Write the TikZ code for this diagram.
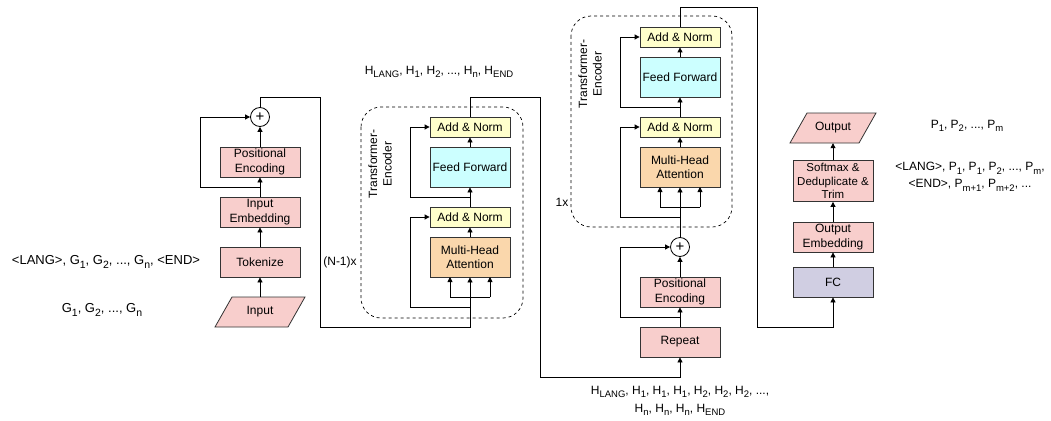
\documentclass[tikz,border=0pt]{standalone}
\usepackage{fontspec}
\setmainfont{Liberation Sans}
\usetikzlibrary{arrows.meta,calc}
\newcommand\dfs{\fontsize{12}{14.5}\selectfont}
\newcommand\sfs{\fontsize{11.5}{13.5}\selectfont}
\newcommand\sbx[1]{\raisebox{-3.5pt}{\fontsize{9.5}{10}\selectfont #1}}
\newcommand\sbl[1]{\raisebox{-3.8pt}{\fontsize{10.5}{11}\selectfont #1}}
\definecolor{pinkf}{HTML}{F8CECC}
\definecolor{yellowf}{HTML}{FFFFCC}
\definecolor{cyanf}{HTML}{CCFFFF}
\definecolor{orangef}{HTML}{FAD7AC}
\definecolor{lavf}{HTML}{D0CEE2}
\definecolor{edge}{HTML}{333333}
\tikzset{
  box/.style={draw=edge, line width=0.8pt, minimum width=80pt, minimum height=30pt, inner sep=1pt, align=center, font=\dfs},
  pinkbox/.style={box, fill=pinkf},
  anbox/.style={box, fill=yellowf, minimum height=20pt},
  ffbox/.style={box, fill=cyanf, minimum height=40pt},
  mhabox/.style={box, fill=orangef, minimum height=40pt},
  fcbox/.style={box, fill=lavf},
  plus/.style={draw=black, line width=0.8pt, circle, fill=white, minimum size=19pt, inner sep=0pt, font=\fontsize{15}{15}\selectfont},
  para/.style={draw=edge, line width=0.8pt, fill=pinkf},
  ptext/.style={minimum width=60pt, minimum height=30pt, inner sep=0pt, font=\dfs},
  lbl/.style={font=\dfs, align=center, inner sep=0pt},
  biglbl/.style={lbl, font=\fontsize{13}{15}\selectfont},
  enc/.style={draw=black, dashed, line width=0.7pt, rounded corners=20pt},
  wire/.style={draw=black, line width=0.8pt},
  arr/.style={wire, -{Triangle[length=5pt,width=5pt]}}
}
\begin{document}
\begin{tikzpicture}[x=1pt,y=-1pt]
\useasboundingbox (0,0) rectangle (1051,420);
% dashed encoder frames
\draw[enc] (361,107) rectangle (523,318);
\draw[enc] (571,16) rectangle (732,227);
% column 1
\draw[para] (232,297) -- (305,297) -- (288,327) -- (215,327) -- cycle;
\node[ptext] (input) at (260,312) {Input};
\node[pinkbox] (tok) at (260,262) {Tokenize};
\node[pinkbox] (iemb) at (260,212) {Input\\Embedding};
\node[pinkbox] (pe1) at (260,162) {Positional\\Encoding};
\node[plus] (plus1) at (260,117) {+};
% encoder 1
\node[mhabox] (mha1) at (470,257) {Multi-Head\\Attention};
\node[anbox] (an1) at (470,217) {Add \& Norm};
\node[ffbox] (ff1) at (470,167) {Feed Forward};
\node[anbox] (an2) at (470,127) {Add \& Norm};
\node[lbl, rotate=90] (tl1) at (380,164) {Transformer-\\Encoder};
\node[lbl] (nx) at (340,262) {(N-1)x};
% encoder 2
\node[mhabox] (mha2) at (680,167) {Multi-Head\\Attention};
\node[anbox] (an3) at (680,127) {Add \& Norm};
\node[ffbox] (ff2) at (680,77) {Feed Forward};
\node[anbox] (an4) at (680,37) {Add \& Norm};
\node[lbl, rotate=90] (tl2) at (590,74) {Transformer-\\Encoder};
\node[lbl] (onex) at (562,202) {1x};
% middle column
\node[plus] (plus2) at (680,247) {+};
\node[pinkbox] (pe2) at (680,292) {Positional\\Encoding};
\node[pinkbox] (rep) at (680,342) {Repeat};
% right column
\node[fcbox] (fc) at (833,282) {FC};
\node[pinkbox] (oemb) at (833,237) {Output\\Embedding};
\node[pinkbox, minimum height=41pt, font=\sfs] (soft) at (833,181) {Softmax \&\\Deduplicate \&\\Trim};
\draw[para] (807,113) -- (876,113) -- (859,143) -- (790,143) -- cycle;
\node[ptext] (output) at (833,128) {Output};
% text labels
\node[biglbl] (gin) at (102,310) {G\sbl{1}, G\sbl{2}, ..., G\sbl{n}};
\node[biglbl] (gtok) at (106,262) {<LANG>, G\sbl{1}, G\sbl{2}, ..., G\sbl{n}, <END>};
\node[lbl] (hseq) at (439,72) {H\sbx{LANG}, H\sbx{1}, H\sbx{2}, ..., H\sbx{n}, H\sbx{END}};
\node[lbl, font=\fontsize{12}{18}\selectfont] (hrep) at (680,401) {H\sbx{LANG}, H\sbx{1}, H\sbx{1}, H\sbx{1}, H\sbx{2}, H\sbx{2}, H\sbx{2}, ...,\\H\sbx{n}, H\sbx{n}, H\sbx{n}, H\sbx{END}};
\node[lbl] (pout) at (967,126) {P\sbx{1}, P\sbx{2}, ..., P\sbx{m}};
\node[lbl, font=\fontsize{12}{17}\selectfont] (pseq) at (970,177) {<LANG>, P\sbx{1}, P\sbx{1}, P\sbx{2}, ..., P\sbx{m},\\<END>, P\sbx{m+1}, P\sbx{m+2}, ...};
% junction coordinates
\coordinate (r1) at (260,187);
\coordinate (j1) at (470,297);
\coordinate (j2) at (470,307);
\coordinate (j3) at (470,197);
\coordinate (k1) at (680,207);
\coordinate (k2) at (680,217);
\coordinate (k3) at (680,107);
\coordinate (k4) at (680,317);
% column 1 connectors
\draw[arr] (input) -- (tok);
\draw[arr] (tok) -- (iemb);
\draw[arr] (iemb) -- (pe1);
\draw[arr] (pe1) -- (plus1);
\draw[arr] (r1) -- (200,187) |- (plus1);
\draw[wire] (plus1) -- (260,97) -- (320,97) -- (320,327) -- (470,327) -- (j1);
% encoder 1 connectors
\draw[wire] (450,297) -- (490,297);
\draw[arr] (j1) -- (mha1);
\draw[arr] (450,297) -- (450,277);
\draw[arr] (490,297) -- (490,277);
\draw[arr] (j2) -- (410,307) |- (an1);
\draw[arr] (mha1) -- (an1);
\draw[arr] (an1) -- (ff1);
\draw[arr] (j3) -- (410,197) |- (an2);
\draw[arr] (ff1) -- (an2);
\draw[arr] (an2) -- (470,97) -- (540,97) -- (540,377) -| (rep);
% middle column connectors
\draw[arr] (rep) -- (pe2);
\draw[arr] (pe2) -- (plus2);
\draw[arr] (k4) -- (620,317) |- (plus2);
\draw[wire] (plus2) -- (k1);
% encoder 2 connectors
\draw[wire] (660,207) -- (700,207);
\draw[arr] (k1) -- (mha2);
\draw[arr] (660,207) -- (660,187);
\draw[arr] (700,207) -- (700,187);
\draw[arr] (k2) -- (620,217) |- (an3);
\draw[arr] (mha2) -- (an3);
\draw[arr] (an3) -- (ff2);
\draw[arr] (k3) -- (620,107) |- (an4);
\draw[arr] (ff2) -- (an4);
\draw[arr] (an4) -- (680,7) -- (757,7) -- (757,327) -| (fc);
% right column connectors
\draw[arr] (fc) -- (oemb);
\draw[arr] (oemb) -- (soft);
\draw[arr] (soft) -- (output);
\end{tikzpicture}
\end{document}
